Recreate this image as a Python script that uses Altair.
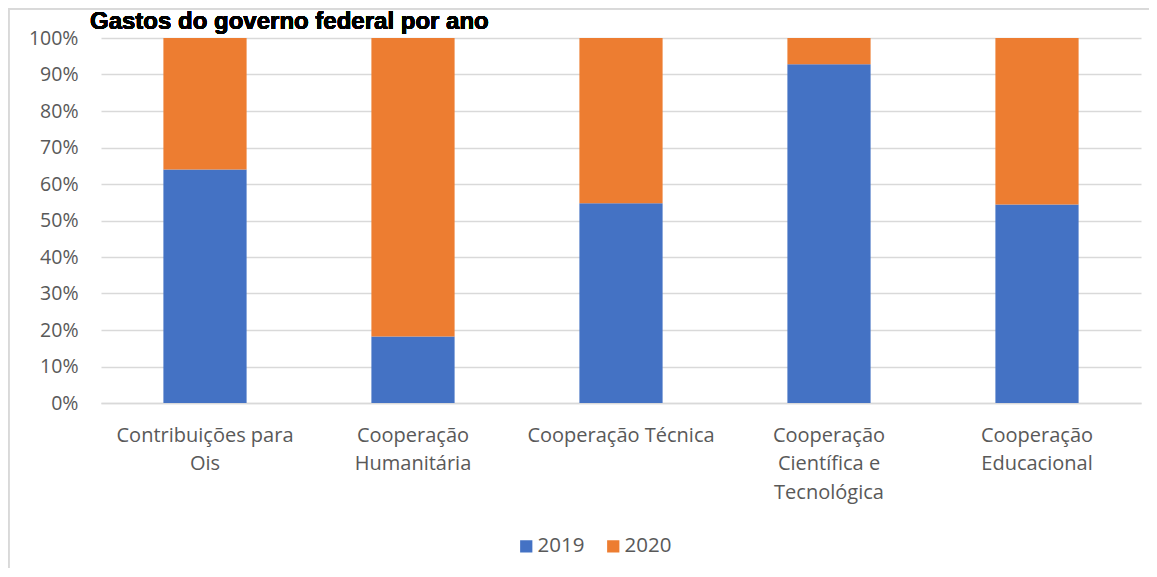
import json
import altair as alt
import pandas as pd

# ---- data ----
categories = [
    "Contribuições para Ois",
    "Cooperação Humanitária",
    "Cooperação Técnica",
    "Cooperação Científica e Tecnológica",
    "Cooperação Educacional",
]
label_lines = [
    ["Contribuições para", "Ois"],
    ["Cooperação", "Humanitária"],
    ["Cooperação Técnica"],
    ["Cooperação", "Científica e", "Tecnológica"],
    ["Cooperação", "Educacional"],
]
years = ["2019", "2020"]
share_2019 = [64.0, 18.2, 54.7, 92.8, 54.4]
share_2020 = [36.0, 81.8, 45.3, 7.2, 45.6]
y_ticks = [0, 0.1, 0.2, 0.3, 0.4, 0.5, 0.6, 0.7, 0.8, 0.9, 1.0]
title_text = "Gastos do governo federal por ano"
colors = ["#4472C4", "#ED7D31"]

rows = []
for i, c in enumerate(categories):
    rows.append({"category": c, "year": years[0], "share": share_2019[i], "ord": 0})
    rows.append({"category": c, "year": years[1], "share": share_2020[i], "ord": 1})
df = pd.DataFrame(rows)

label_map = json.dumps(dict(zip(categories, label_lines)), ensure_ascii=False)

FONT = "Open Sans"
TXT = "#595959"
GRID = "#d9d9d9"

W, H = 1040, 365

bars = alt.Chart(df).mark_bar().encode(
    x=alt.X(
        "category:N",
        sort=categories,
        scale=alt.Scale(paddingInner=0.6, paddingOuter=0.3),
        axis=alt.Axis(
            title=None,
            labelAngle=0,
            labelExpr=label_map + "[datum.label]",
            labelLimit=0,
            labelBaseline="top",
            labelLineHeight=28.5,
            labelPadding=22,
            labelFont=FONT,
            labelFontSize=20,
            labelColor=TXT,
            ticks=False,
            domainColor=GRID,
            domainWidth=1.3,
        ),
    ),
    y=alt.Y(
        "share:Q",
        stack="normalize",
        scale=alt.Scale(domain=[0, 1]),
        axis=alt.Axis(
            title=None,
            values=y_ticks,
            format=".0%",
            domain=False,
            ticks=False,
            labelPadding=23,
            labelFont=FONT,
            labelFontSize=19.5,
            labelColor=TXT,
            gridColor=GRID,
            gridWidth=1.3,
        ),
    ),
    color=alt.Color(
        "year:N",
        scale=alt.Scale(domain=years, range=colors),
        legend=alt.Legend(
            title=None,
            orient="none",
            legendX=415,
            legendY=498,
            direction="horizontal",
            symbolType="square",
            symbolSize=150,
            symbolStrokeWidth=0,
            symbolOpacity=1,
            labelFont=FONT,
            labelFontSize=20.5,
            labelColor=TXT,
            labelOffset=1,
            columnPadding=18,
        ),
    ),
    order=alt.Order("ord:Q", sort="ascending"),
)

title = alt.Chart(df).mark_text(
    text=title_text,
    font="Liberation Sans",
    fontWeight="bold",
    fontSize=24,
    color="#000000",
    align="left",
    baseline="alphabetic",
).encode(x=alt.value(-11), y=alt.value(-9))

frame = alt.Chart(df).mark_rect(
    filled=False, stroke=GRID, strokeWidth=1.3
).encode(
    x=alt.value(-92.4), x2=alt.value(W + 60), y=alt.value(-29.2), y2=alt.value(H + 250)
)

chart = alt.layer(frame, title, bars).properties(
    width=W,
    height=H,
    autosize=alt.AutoSizeParams(type="none"),
    padding={"left": 93, "top": 30, "right": 8, "bottom": 165},
).configure_view(strokeWidth=0)

chart.save("out.html", embed_options={"renderer": "svg", "actions": False})
